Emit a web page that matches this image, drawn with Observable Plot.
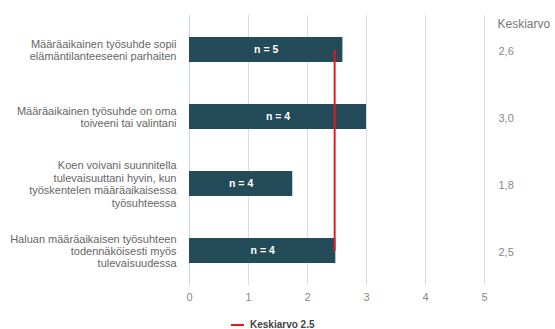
<!DOCTYPE html>
<html>
<head>
<meta charset="utf-8">
<script src="https://cdn.jsdelivr.net/npm/d3@7"></script>
<script src="https://cdn.jsdelivr.net/npm/@observablehq/plot@0.6"></script>
<style>
  body { margin: 0; background: #fff; font-family: "Liberation Sans", Arial, sans-serif; }
  #chart svg { display: block; }
  #legend { height: 14px; padding-top: 6px; padding-left: 231px; font-size: 10px; line-height: 14px; font-weight: bold; color: #444; display: flex; align-items: center; }
  #legend .sw { display: inline-block; width: 13px; height: 2px; background: #e8191b; margin-right: 6px; }
</style>
</head>
<body>
<div id="chart"></div>
<div id="legend"><span class="sw"></span><span>Keskiarvo 2.5</span></div>
<script>
const categories = [
  "Määräaikainen työsuhde sopii\nelämäntilanteeseeni parhaiten",
  "Määräaikainen työsuhde on oma\ntoiveeni tai valintani",
  "Koen voivani suunnitella\ntulevaisuuttani hyvin, kun\ntyöskentelen määräaikaisessa\ntyösuhteessa",
  "Haluan määräaikaisen työsuhteen\ntodennäköisesti myös\ntulevaisuudessa"
];
const values = [2.6, 3.0, 1.75, 2.48];
const nLabels = ["n = 5", "n = 4", "n = 4", "n = 4"];
const meanLabels = ["2,6", "3,0", "1,8", "2,5"];
const overallMean = 2.46;
const xTicks = [0, 1, 2, 3, 4, 5];
const columnHeader = "Keskiarvo";

const data = categories.map((c, i) => ({cat: c, value: values[i], n: nLabels[i], mean: meanLabels[i]}));

const chart = Plot.plot({
  width: 555,
  height: 312,
  marginLeft: 189,
  marginRight: 71,
  marginTop: 15,
  marginBottom: 27,
  style: {fontFamily: "'Liberation Sans', Arial, sans-serif", fontSize: "11px", color: "#666", background: "#fff"},
  x: {domain: [0, 5], ticks: xTicks},
  y: {domain: categories, paddingInner: 0.63, paddingOuter: 0.315},
  marks: [
    Plot.gridX(xTicks.filter(d => d > 0), {stroke: "#dcdcdc", strokeOpacity: 1}),
    Plot.ruleX([0], {stroke: "#c6d3ea", strokeWidth: 1}),
    Plot.axisX({ticks: xTicks, tickFormat: d3.format("d"), tickSize: 0, tickPadding: 8, label: null, color: "#888", fontSize: 11}),
    Plot.axisY({tickSize: 0, tickPadding: 13, label: null, color: "#666", fontSize: 11, lineHeight: 1.13}),
    Plot.barX(data, {x: "value", y: "cat", fill: "#234b59"}),
    Plot.text(data, {x: d => d.value / 2, y: "cat", text: "n", fill: "#fff", fontWeight: "bold", fontSize: 10.5}),
    Plot.link([0], {x1: () => overallMean, x2: () => overallMean, y1: () => categories[0], y2: () => categories[categories.length - 1], stroke: "#e8191b", strokeWidth: 2}),
    Plot.text(data, {x: () => 5, y: "cat", text: "mean", textAnchor: "start", dx: 14, dy: 1.5, fill: "#888", fontSize: 11}),
    Plot.text([columnHeader], {x: () => 5, frameAnchor: "top", text: d => d, textAnchor: "start", dx: 13, dy: 4, fill: "#777", fontSize: 12})
  ]
});
document.getElementById("chart").appendChild(chart);
</script>
</body>
</html>
